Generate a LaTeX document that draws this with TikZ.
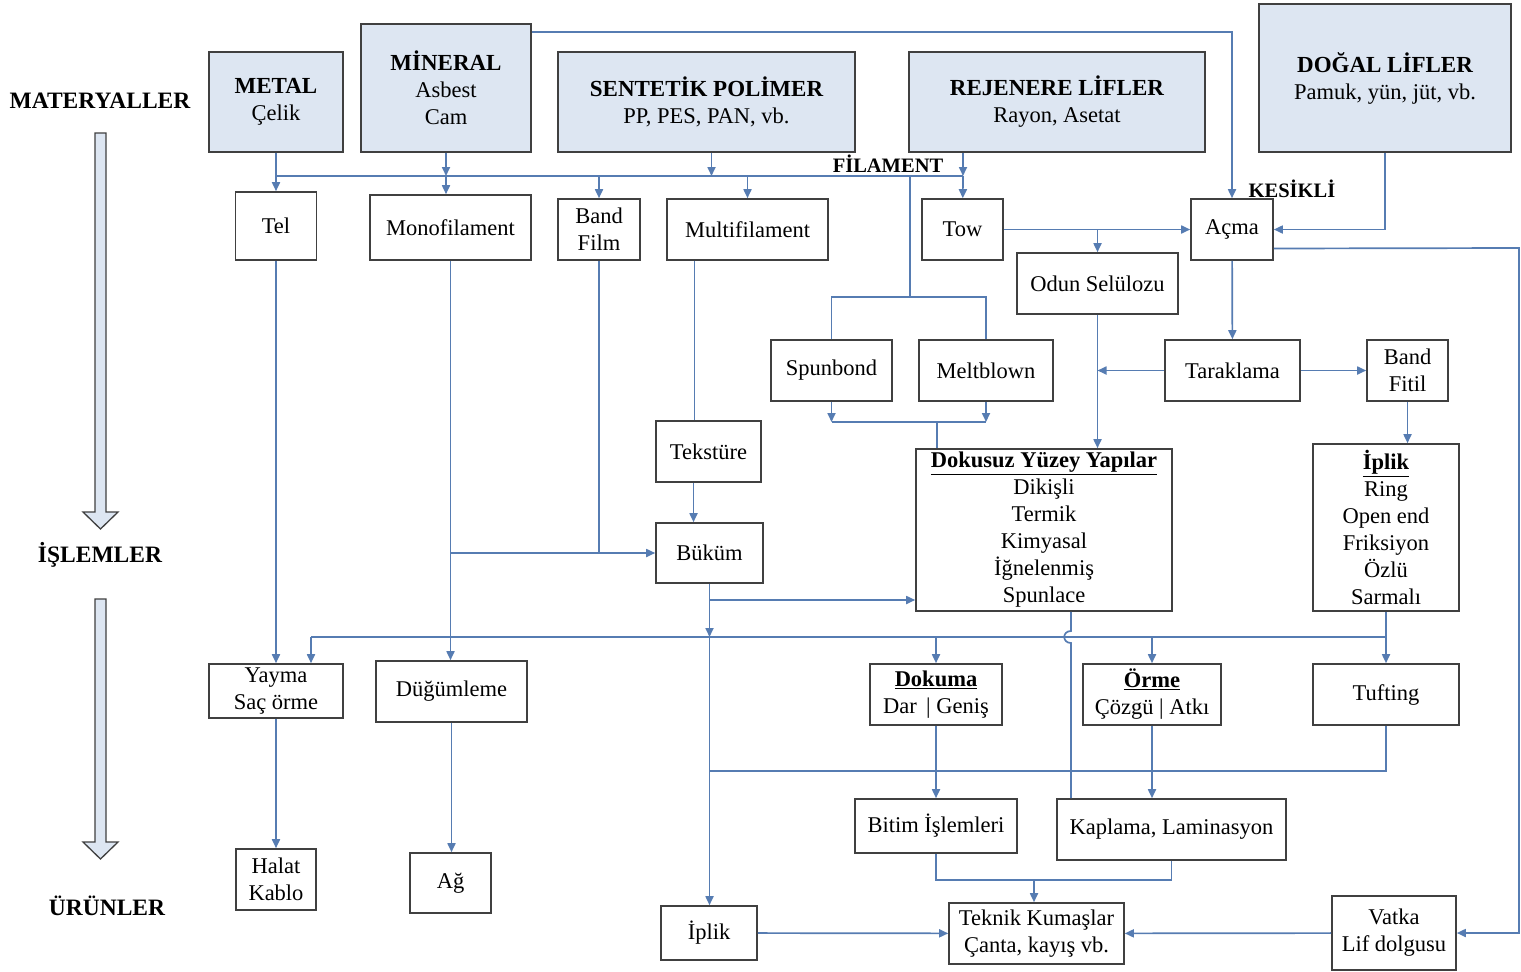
\documentclass[tikz,border=0pt]{standalone}
\usepackage{fontspec}
\setmainfont{Liberation Serif}
\usepackage{xcolor}
\usepackage{tikz}
\usetikzlibrary{arrows.meta, calc, positioning}
\definecolor{flowblue}{RGB}{86,124,178}
\definecolor{boxgray}{RGB}{64,64,64}
\definecolor{matfill}{RGB}{221,230,242}
\tikzset{
	matbox/.style={draw=boxgray, fill=matfill, line width=1.6pt, inner sep=0pt, align=center, font=\fontsize{22.5}{27}\selectfont},
	procbox/.style={draw=boxgray, fill=white, line width=1.6pt, inner sep=0pt, align=center, font=\fontsize{22.5}{27}\selectfont},
	flow/.style={draw=flowblue, line width=1.7pt},
	stage/.style={font=\fontsize{23.5}{26}\selectfont\bfseries},
	tag/.style={font=\fontsize{20.5}{24}\selectfont\bfseries},
	bigarrow/.style={draw=boxgray, fill=matfill, line width=1.3pt},
	sz/.style 2 args={minimum width=#1pt, minimum height=#2pt}
}
\newcommand{\hd}[1]{{\fontsize{23}{27}\selectfont\bfseries #1}}
\newcommand{\uhd}[1]{\underline{\textbf{#1}}}

\begin{document}
\begin{tikzpicture}[
	x=1pt, y=-1pt,
	>={Triangle[length=9pt,width=8pt]}]
	\fill[white] (0,0) rectangle (1521,972);
	\useasboundingbox (0,0) rectangle (1521,972);

	% materials
	\node[matbox, sz={134}{100}] (metal) at (276,102) {\hd{METAL}\\Çelik};
	\node[matbox, sz={170}{128}] (mineral) at (446,88) {\hd{MİNERAL}\\Asbest\\Cam};
	\node[matbox, sz={297}{100}] (sentetik) at (706.5,102) {\hd{SENTETİK POLİMER}\\PP, PES, PAN, vb.};
	\node[matbox, sz={296}{100}] (rejenere) at (1057,102) {\hd{REJENERE LİFLER}\\Rayon, Asetat};
	\node[matbox, sz={252}{148}] (dogal) at (1385,78) {\hd{DOĞAL LİFLER}\\Pamuk, yün, jüt, vb.};

	\node[stage] (lmat) at (100,101) {MATERYALLER};
	\node[stage] (lisl) at (100,555) {İŞLEMLER};
	\node[stage] (lurun) at (107,906) {ÜRÜNLER};
	\node[tag] (lfil) at (888,164) {FİLAMENT};
	\node[tag] (lkes) at (1292,189) {KESİKLİ};

	\foreach \ya/\yb in {133/512, 599/842}
		\draw[bigarrow] (95,\ya) -- (106,\ya) -- (106,\yb) -- (118,\yb) -- (100.5,\yb+17) -- (83,\yb) -- (95,\yb) -- cycle;

	% processes
	\node[procbox, sz={81}{68}] (tel) at (276,226) {Tel};
	\node[procbox, sz={161}{65}] (mono) at (450.5,227.5) {Monofilament};
	\node[procbox, sz={82}{61}] (bandfilm) at (599,229.5) {Band\\Film};
	\node[procbox, sz={161}{61}] (multi) at (747.5,229.5) {Multifilament};
	\node[procbox, sz={81}{61}] (tow) at (962.5,229.5) {Tow};
	\node[procbox, sz={82}{61}] (acma) at (1232,229.5) {Açma};
	\node[procbox, sz={161}{61}] (odun) at (1097.5,283.5) {Odun Selülozu};
	\node[procbox, sz={121}{61}] (spunbond) at (831.5,370.5) {Spunbond};
	\node[procbox, sz={134}{61}] (meltblown) at (986,370.5) {Meltblown};
	\node[procbox, sz={135}{61}] (taraklama) at (1232.5,370.5) {Taraklama};
	\node[procbox, sz={81}{61}] (bandfitil) at (1407.5,370.5) {Band\\Fitil};
	\node[procbox, sz={105}{61}] (teksture) at (708.5,451.5) {Tekstüre};
	\node[procbox, sz={107}{60}] (bukum) at (709.5,553) {Büküm};
	\node[procbox, sz={256}{162}] (dokusuz) at (1044,530) {\uhd{Dokusuz Yüzey Yapılar}\\Dikişli\\Termik\\Kimyasal\\İğnelenmiş\\Spunlace};
	\node[procbox, sz={146}{167}] (iplikbox) at (1386,527.5) {\uhd{İplik}\\Ring\\Open end\\Friksiyon\\Özlü\\Sarmalı};
	\node[procbox, sz={134}{54}] (yayma) at (276,691) {Yayma\\Saç örme};
	\node[procbox, sz={151}{61}] (dugum) at (451.5,691.5) {Düğümleme};
	\node[procbox, sz={132}{61}] (dokuma) at (936,694.5) {\uhd{Dokuma}\\Dar \,| Geniş};
	\node[procbox, sz={138}{61}] (orme) at (1152,694.5) {\uhd{Örme}\\Çözgü | Atkı};
	\node[procbox, sz={146}{61}] (tufting) at (1386,694.5) {Tufting};
	\node[procbox, sz={162}{54}] (bitim) at (936,826) {Bitim İşlemleri};
	\node[procbox, sz={229}{61}] (kaplama) at (1171.5,829.5) {Kaplama, Laminasyon};

	% products
	\node[procbox, sz={80}{61}] (halat) at (276,879.5) {Halat\\Kablo};
	\node[procbox, sz={81}{60}] (ag) at (450.5,883) {Ağ};
	\node[procbox, sz={96}{54}] (iplik) at (709,933) {İplik};
	\node[procbox, sz={175}{61}] (teknik) at (1036.5,933.5) {Teknik Kumaşlar\\Çanta, kayış vb.};
	\node[procbox, sz={124}{74}] (vatka) at (1394,933) {Vatka\\Lif dolgusu};

	\coordinate (fbL) at (276,176);
	\coordinate (fbR) at (963,176);
	\coordinate (nw) at (910,297);
	\coordinate (nb) at (937,422);
	\coordinate (redge) at (1519,248);
	\coordinate (bd) at (710,600);
	\coordinate (busL) at (311,637);
	\coordinate (busR) at (1386,637);
	\coordinate (dk) at (1071,637);
	\coordinate (tl) at (710,771);
	\coordinate (tk) at (1034,880);

	% filament
	\draw[flow] (fbL) -- (fbR);
	\draw[flow,->] (metal.south) -- (metal.south |- tel.north);
	\draw[flow,->] (mineral.south) -- (mineral.south |- fbL);
	\draw[flow,->] (mineral.south |- fbL) -- (mineral.south |- mono.north);
	\draw[flow,->] ([xshift=5pt]sentetik.south) -- ([xshift=5pt]sentetik.south |- fbL);
	\draw[flow,->] (bandfilm |- fbL) -- (bandfilm);
	\draw[flow,->] (multi |- fbL) -- (multi);
	\draw[flow,->] (rejenere.south -| fbR) -- (fbR);
	\draw[flow,->] (fbR) -- (tow);
	\draw[flow] (nw |- fbL) -- (nw);
	\draw[flow] (spunbond) |- (nw) -| (meltblown);

	% staple
	\draw[flow,->] ([yshift=-9pt]mineral.north east) -| (acma);
	\draw[flow,->] (tow) -- (acma);
	\draw[flow,->] (tow.east -| odun) -- (odun);
	\draw[flow,->] (dogal.south) |- (acma);
	\draw[flow,->] ([yshift=-19pt]acma.east) -- (redge) |- (vatka);
	\draw[flow,->] (acma) -- (taraklama);
	\draw[flow,->] (odun) -- (odun |- dokusuz.north);
	\draw[flow,->] (taraklama) -- (taraklama -| odun);
	\draw[flow,->] (taraklama) -- (bandfitil);
	\draw[flow,->] (bandfitil) -- (bandfitil |- iplikbox.north);

	\draw[flow,->] (spunbond) -- (spunbond |- nb);
	\draw[flow,->] (meltblown) -- (meltblown |- nb);
	\draw[flow] (spunbond |- nb) -- (meltblown |- nb);
	\draw[flow] (nb) -- (nb |- dokusuz.north);

	\draw[flow] ([xshift=-53pt]multi.south) -- ([xshift=-53pt]multi.south |- teksture.north);
	\draw[flow,->] ([xshift=-15pt]teksture.south) -- ([xshift=-15pt]teksture.south |- bukum.north);
	\draw[flow,->] (bandfilm) |- (bukum);
	\draw[flow] (mono.south |- bukum.west) -- (bandfilm |- bukum.west);
	\draw[flow,->] (mono.south) -- (mono.south |- dugum.north);

	% fabric forming
	\draw[flow,->] (bd) -- (bd -| dokusuz.west);
	\draw[flow,->] (bukum) -- (bukum |- busL);
	\draw[flow,->] (bukum |- busL) -- (bukum |- iplik.north);
	\draw[flow] (busL) -- (busR);
	\draw[flow,->] (busL) -- (busL |- yayma.north);
	\draw[flow,->] (dokuma |- busL) -- (dokuma);
	\draw[flow,->] (orme |- busL) -- (orme);
	\draw[flow,->] (iplikbox) -- (tufting);
	\draw[flow] (dokusuz.south -| dk) -- ([yshift=6pt]dk) .. controls +(-9pt,0) and +(-9pt,0) .. ([yshift=-6pt]dk) -- (kaplama.north -| dk);
	\draw[flow,->] (tel) -- (tel |- yayma.north);
	\draw[flow] (tufting) |- (tl);
	\draw[flow,->] (dokuma) -- (bitim);
	\draw[flow,->] (orme) -- (orme |- kaplama.north);
	\draw[flow,->] (yayma) -- (halat);
	\draw[flow,->] (dugum) -- (dugum |- ag.north);
	\draw[flow] (bitim) |- (tk) -| (kaplama);
	\draw[flow,->] (tk) -- (tk |- teknik.north);
	\draw[flow,->] (iplik) -- (teknik);
	\draw[flow,->] (vatka) -- (teknik);
\end{tikzpicture}
\end{document}
